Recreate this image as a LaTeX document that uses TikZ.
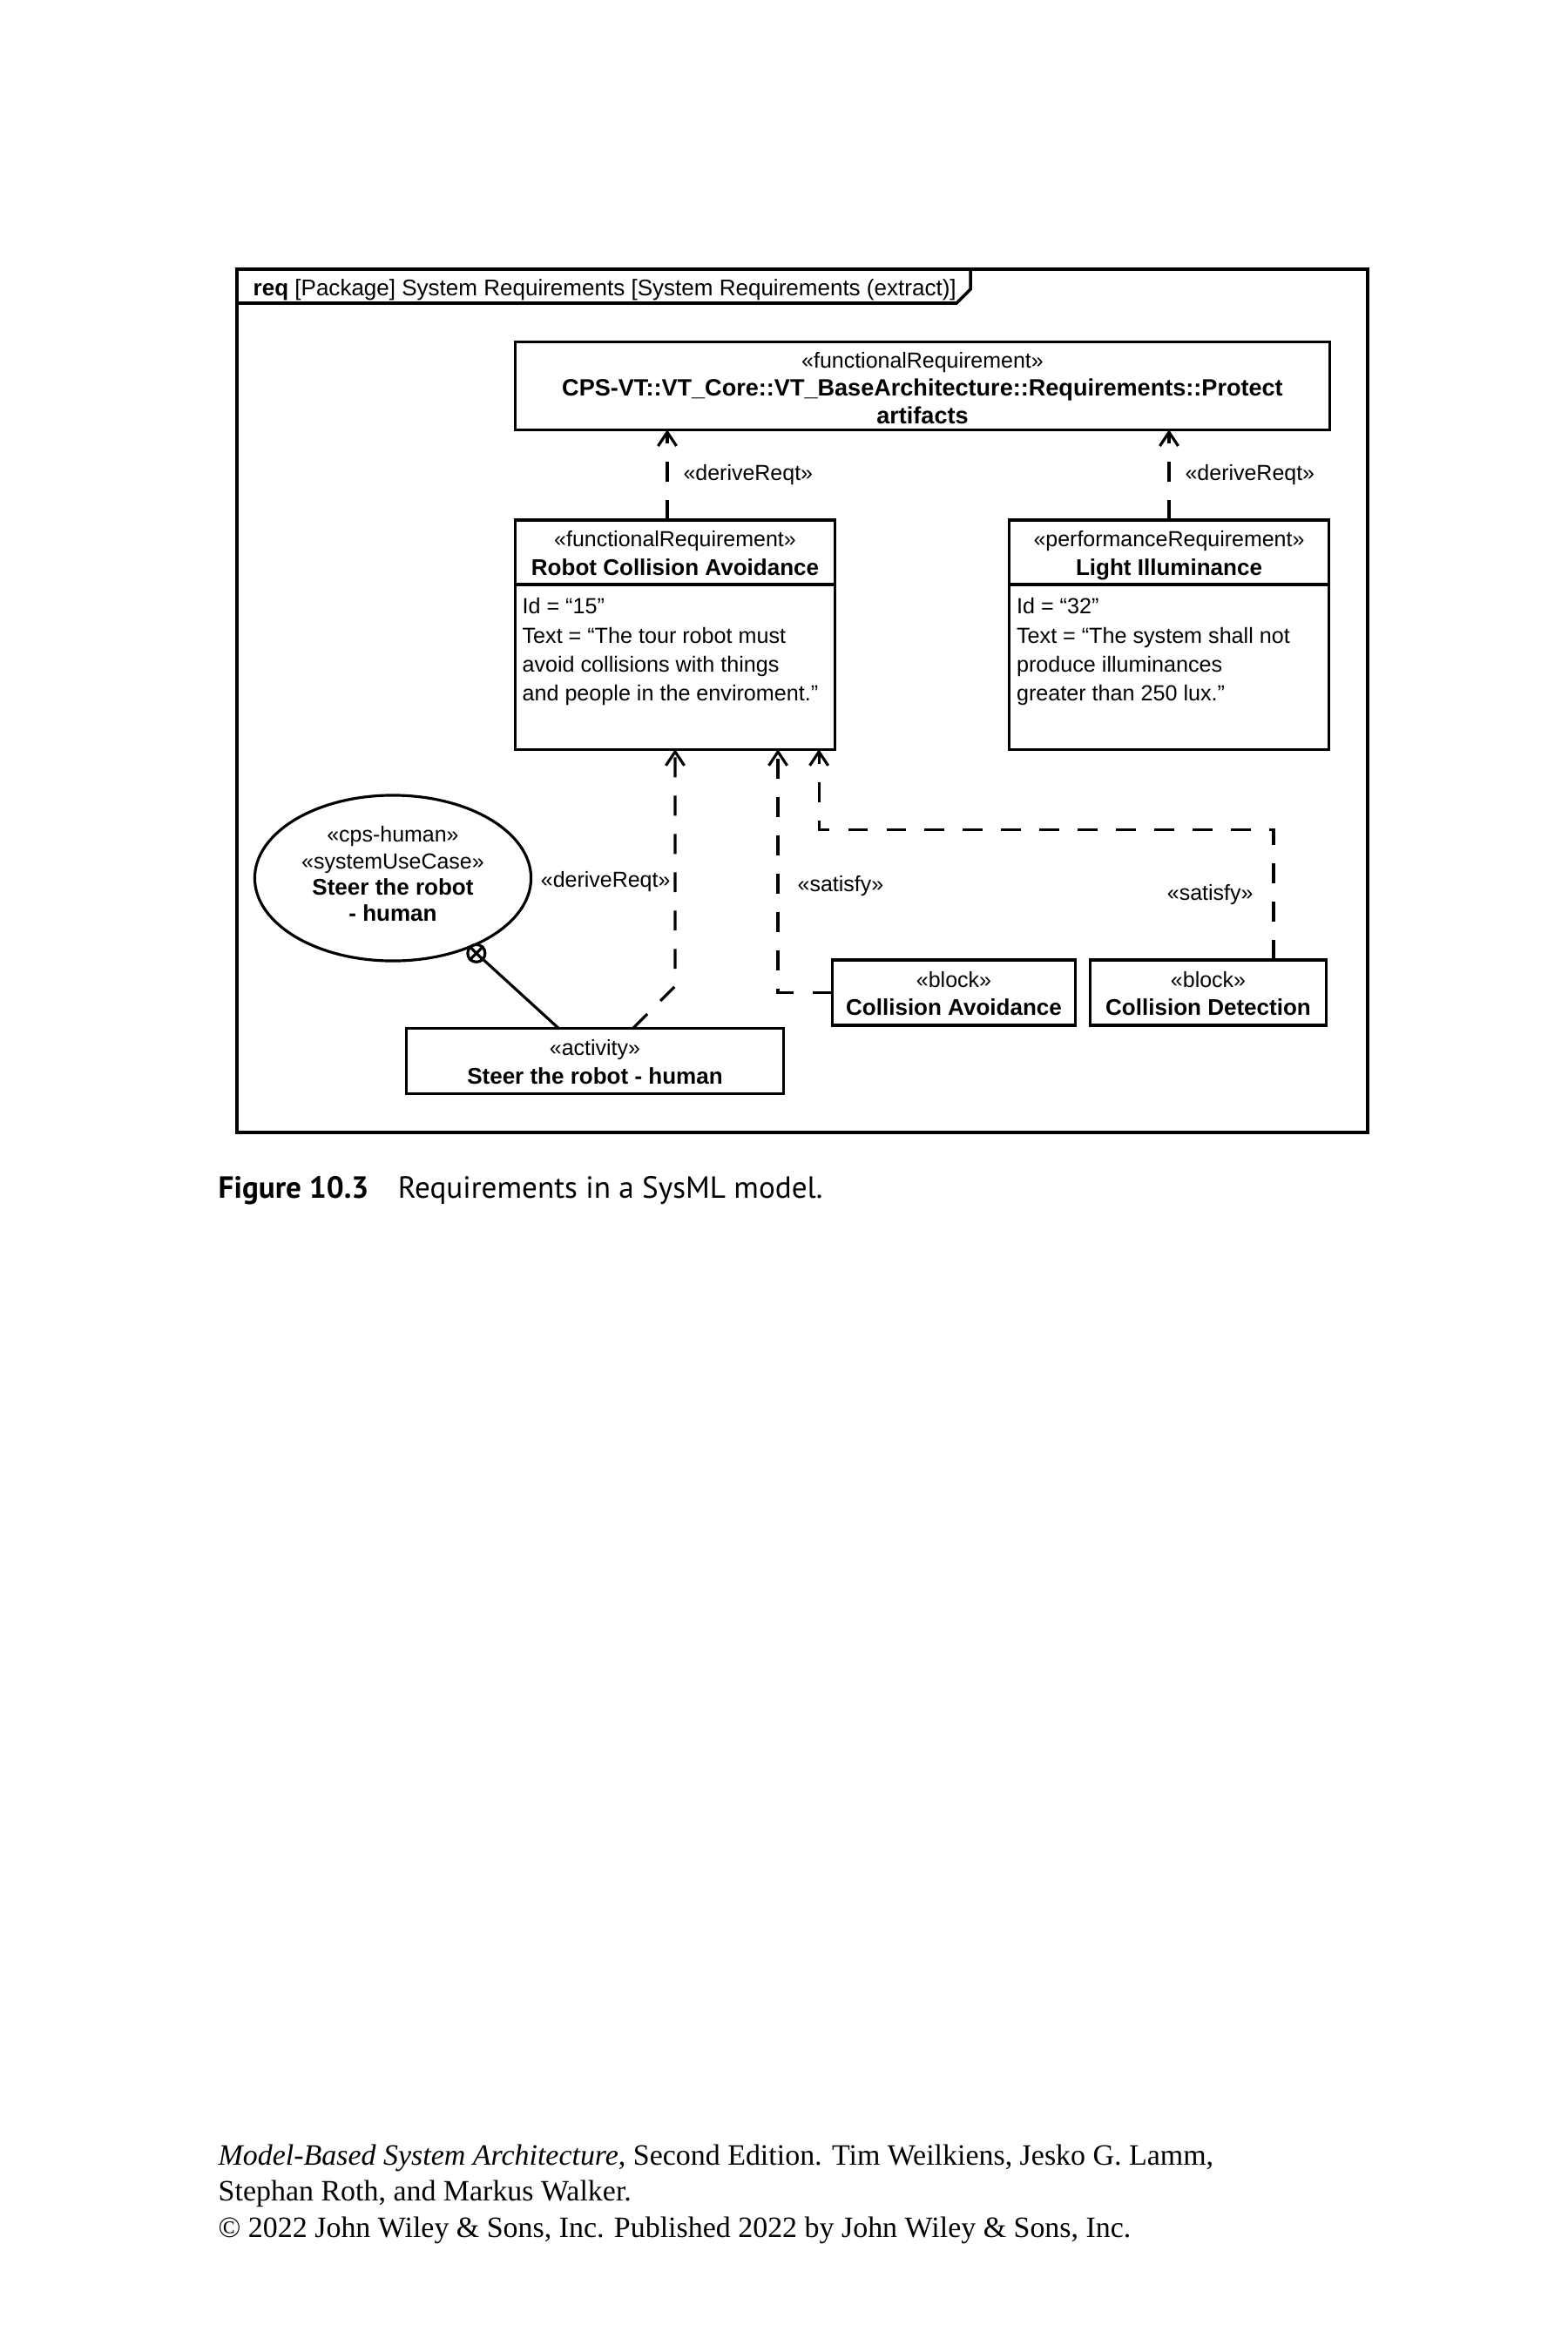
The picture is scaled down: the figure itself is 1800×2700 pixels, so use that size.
\documentclass[tikz,border=0pt]{standalone}
\usepackage{fontspec}
\setmainfont{Liberation Sans}
\newfontfamily\capfont{PT Sans}
\newfontfamily\bookfont{Liberation Serif}
\usetikzlibrary{arrows.meta,shapes.geometric,positioning}
\newcommand{\umlfont}{\fontsize{7.1}{9.2}\selectfont}
\newcommand{\attrfont}{\fontsize{7.15}{9.4}\selectfont}
\newcommand{\casefont}{\fontsize{7.1}{8.6}\selectfont}
\newcommand{\stereo}[1]{\rule{0pt}{8.4pt}\strut«#1»}
\newcommand{\nm}[1]{{\fontsize{7.4}{9.2}\selectfont\bfseries\strut #1}}
\newcommand{\bignm}[1]{{\fontsize{7.7}{9.2}\selectfont\bfseries\strut #1}}
\newcommand{\casenm}[1]{{\fontsize{7.4}{8.6}\selectfont\bfseries #1}}
\begin{document}
\begin{tikzpicture}[x=0.01cm,y=-0.01cm,
	umlbox/.style={draw,line width=0.9pt,inner sep=0pt,outer sep=0pt,align=center,font=\umlfont},
	attr/.style={anchor=north west,inner sep=0pt,align=left,font=\attrfont},
	dep/.style={line width=0.9pt,dash pattern=on 6.5pt off 6pt,-{Straight Barb[length=4.5pt,width=6pt]}},
	lbl/.style={inner sep=0pt,font=\umlfont},
	owns/.style={draw,circle,line width=0.9pt,minimum size=0.2cm,inner sep=0pt}]
	\useasboundingbox (0,0) rectangle (1800,2700);
	\draw[line width=1pt] (272,309) rectangle (1570,1300);
	\draw[line width=1pt] (272,348) -- (1098,348) -- (1114,332) -- (1114,309);
	\node[lbl,anchor=base west,font=\fontsize{7.4}{9}\selectfont] (title) at (290,339) {\textbf{req} [Package] System Requirements [System Requirements (extract)]};
	\node[umlbox,minimum width=9.34cm,minimum height=1.006cm] (protect) at (1059,443) {};
	\node[lbl,align=center] (protecttext) at ([yshift=-0.05cm]protect.center) {\strut«functionalRequirement»\\\bignm{CPS-VT::VT\_Core::VT\_BaseArchitecture::Requirements::Protect}\\\bignm{artifacts}};
	\node[umlbox,minimum width=3.66cm,minimum height=0.74cm] (rcahead) at (775,634) {\stereo{functionalRequirement}\\\nm{Robot Collision Avoidance}};
	\node[umlbox,anchor=north,minimum width=3.66cm,minimum height=1.89cm] (rcabody) at (rcahead.south) {};
	\node[attr] (rcaattr) at ([xshift=0.07cm,yshift=-0.15cm]rcabody.north west) {Id = “15”\\Text = “The tour robot must\\avoid collisions with things\\and people in the enviroment.”};
	\node[umlbox,minimum width=3.67cm,minimum height=0.74cm] (lihead) at (1342,634) {\stereo{performanceRequirement}\\\nm{Light Illuminance}};
	\node[umlbox,anchor=north,minimum width=3.67cm,minimum height=1.89cm] (libody) at (lihead.south) {};
	\node[attr] (liattr) at ([xshift=0.08cm,yshift=-0.15cm]libody.north west) {Id = “32”\\Text = “The system shall not\\produce illuminances\\greater than 250 lux.”};
	\node[draw,ellipse,line width=0.9pt,minimum width=3.17cm,minimum height=1.9cm,inner sep=0pt,align=center,font=\casefont] (usecase) at (451,1008) {«cps-human»\\«systemUseCase»\\\casenm{Steer the robot}\\\casenm{- human}\rule[-2.8pt]{0pt}{2.8pt}};
	\node[umlbox,minimum width=4.32cm,minimum height=0.756cm] (steer) at (683,1218) {\stereo{activity}\\\nm{Steer the robot - human}};
	\node[umlbox,minimum width=2.79cm,minimum height=0.75cm] (cavoid) at (1095,1139.5) {\stereo{block}\\\nm{Collision Avoidance}};
	\node[umlbox,minimum width=2.71cm,minimum height=0.75cm] (cdetect) at (1387,1139.5) {\stereo{block}\\\nm{Collision Detection}};
	\coordinate (rcasat) at ([xshift=1.18cm]rcabody.south);
	\coordinate (rcasatb) at ([xshift=1.65cm]rcabody.south);
	\draw[dep] ([xshift=-0.09cm]rcahead.north) -- ([xshift=-0.09cm]rcahead.north |- protect.south) node[lbl,midway,anchor=west,xshift=0.17cm] {«deriveReqt»};
	\draw[dep] (lihead.north) -- (lihead.north |- protect.south) node[lbl,midway,anchor=west,xshift=0.17cm] {«deriveReqt»};
	\draw[dep] ([xshift=0.44cm]steer.north) -- ([yshift=0.48cm]steer.north -| rcabody.south) -- (rcabody.south) node[lbl,pos=0.44,anchor=east,xshift=-0.04cm] {«deriveReqt»};
	\draw[dep] (cavoid.west) -| (rcasat) node[lbl,pos=0.72,anchor=west,xshift=0.21cm] {«satisfy»};
	\draw[dep] ([xshift=0.75cm]cdetect.north) |- ([yshift=-0.92cm]rcasatb) node[lbl,pos=0.25,anchor=east,xshift=-0.22cm] {«satisfy»} -- (rcasatb);
	\node[owns] (owner) at ([shift={(-42:0.09cm)}]usecase.-42) {};
	\draw[line width=0.9pt] (owner.45) -- (owner.225) (owner.135) -- (owner.315);
	\draw[line width=0.9pt] ([xshift=-0.42cm]steer.north) -- (owner);
	\node[anchor=base west,inner sep=0pt,font=\capfont\fontsize{10}{12}\selectfont] (caption) at (250,1375) {\textbf{Figure 10.3}\hspace{0.95em}Requirements in a SysML model.};
	\node[anchor=base west,inner sep=0pt,align=left,font=\bookfont\fontsize{9.65}{11.7}\selectfont] (credits) at (250,2568) {\textit{Model-Based System Architecture}, Second Edition. Tim Weilkiens, Jesko G. Lamm,\\Stephan Roth, and Markus Walker.\\© 2022 John Wiley \& Sons, Inc. Published 2022 by John Wiley \& Sons, Inc.};
\end{tikzpicture}
\end{document}
